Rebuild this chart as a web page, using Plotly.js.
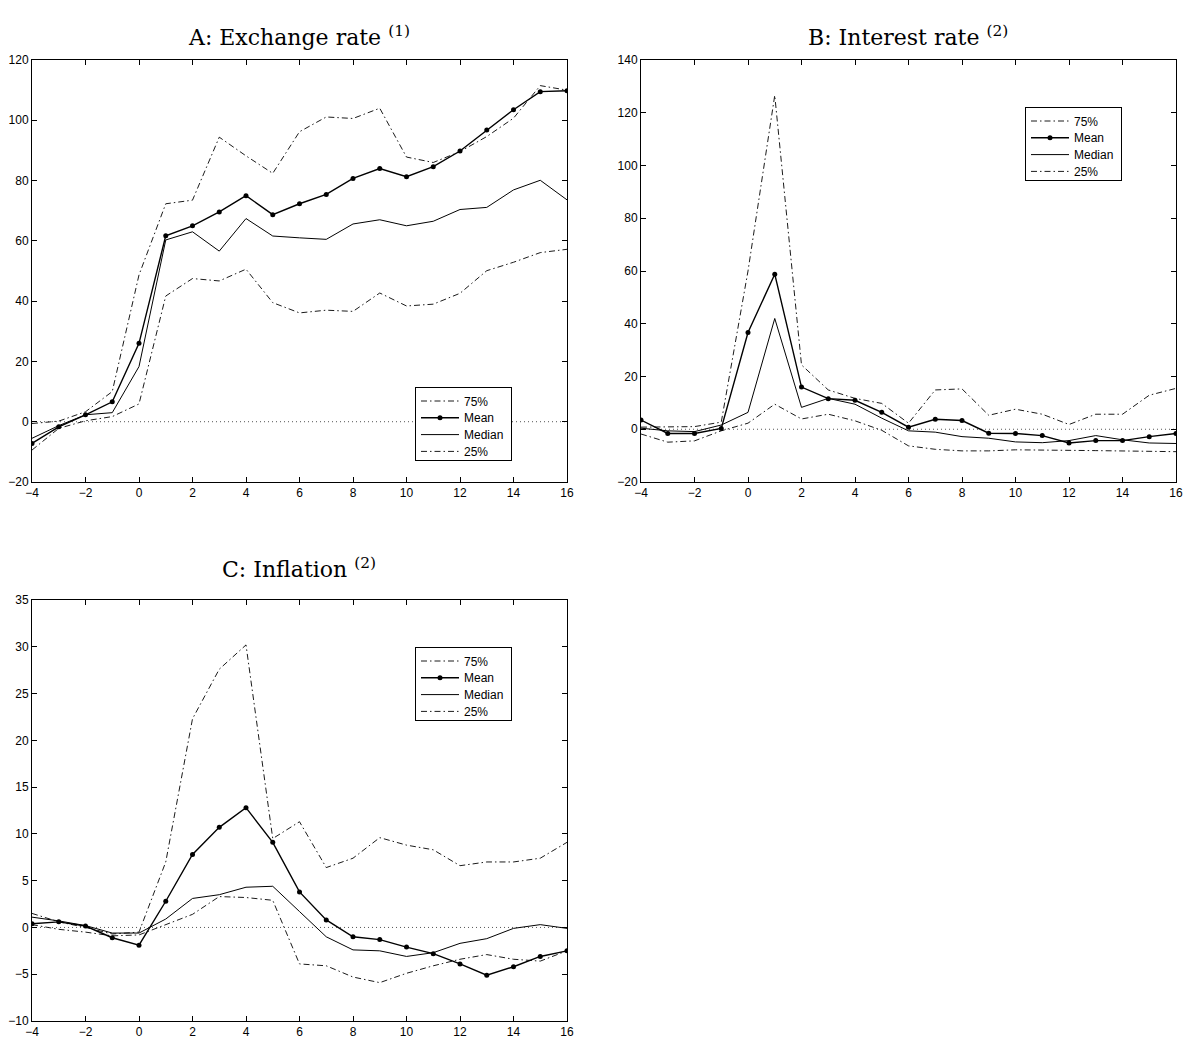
<!DOCTYPE html>
<html>
<head>
<meta charset="utf-8">
<script src="https://cdn.plot.ly/plotly-3.0.1.min.js"></script>
<style>html,body{margin:0;padding:0;background:#fff;}#chart{width:1188px;height:1043px;}</style>
</head>
<body>
<div id="chart"></div>
<script>
// Horizon (quarters relative to event)
const horizons = [-4,-3,-2,-1,0,1,2,3,4,5,6,7,8,9,10,11,12,13,14,15,16];
const seriesNames = ["75%", "Mean", "Median", "25%"];
const panelTitles = ["A: Exchange rate <sup>(1)</sup>", "B: Interest rate <sup>(2)</sup>", "C: Inflation <sup>(2)</sup>"];
const zeroLevel = [0, 0];
const zeroSpan = [-4, 16];

// Panel A: Exchange rate
const exch75   = [-0.6,0.2,3.3,10,48.7,72.3,73.5,94.4,88.2,82.4,96.2,101.1,100.6,104,87.8,86,89.6,94.6,100.7,111.5,110];
const exchMean = [-7.2,-1.7,2.3,6.6,26,61.7,65,69.6,75,68.7,72.3,75.4,80.7,84,81.3,84.6,89.8,96.8,103.5,109.5,109.8];
const exchMed  = [-5.5,-1.3,2.3,3,18.3,60.3,63,56.6,67.4,61.6,61,60.5,65.6,67,65,66.5,70.4,71.1,76.9,80.1,73.6];
const exch25   = [-9.4,-2.2,0.3,1.7,5.9,41.7,47.5,46.7,50.6,39.5,36.1,37,36.6,42.7,38.4,39,42.6,50.1,52.9,56.1,57.2];

// Panel B: Interest rate
const int75   = [0.8,1,1,2.7,60,126.6,24.4,14.9,11.7,9.8,2.3,14.9,15.3,5.3,7.6,5.7,1.8,5.7,5.7,12.9,15.5];
const intMean = [3.5,-1.6,-1.6,0.3,36.7,58.8,16,11.6,11,6.4,0.8,3.8,3.3,-1.5,-1.6,-2.4,-5.2,-4.3,-4.3,-2.8,-1.6];
const intMed  = [0.4,-0.6,-0.9,1.6,6.4,42,8.3,11.7,9.5,4.2,-0.6,-1.1,-2.8,-3.4,-4.8,-5.1,-4.3,-2.4,-4,-5.2,-5.4];
const int25   = [-1.8,-4.9,-4.4,-0.6,2.3,9.5,3.9,5.7,3.2,-0.4,-6.3,-7.6,-8.2,-8.2,-7.8,-7.8,-8,-8.1,-8.3,-8.5,-8.5];

// Panel C: Inflation
const infl75   = [1.5,0.6,0,-0.7,-0.5,7,22.3,27.6,30.2,9.5,11.3,6.4,7.4,9.6,8.8,8.3,6.6,7,7,7.4,9.1];
const inflMean = [0.4,0.6,0.15,-1.1,-1.9,2.8,7.8,10.7,12.8,9.1,3.8,0.8,-1,-1.3,-2.1,-2.8,-3.9,-5.1,-4.2,-3.1,-2.5];
const inflMed  = [1.1,0.7,0.2,-0.6,-0.6,0.9,3.1,3.5,4.3,4.4,1.7,-1,-2.4,-2.5,-3.1,-2.7,-1.7,-1.2,-0.1,0.3,-0.1];
const infl25   = [0.3,-0.2,-0.5,-0.9,-0.8,0.3,1.4,3.3,3.2,2.9,-3.9,-4.1,-5.3,-5.9,-4.9,-4.1,-3.4,-2.9,-3.4,-3.6,-2.5];

const DASHDOT = "6px,3px,1.5px,3px";

function panelTraces(xa, ya, leg, s75, sMean, sMed, s25) {
  return [
    {x: zeroSpan, y: zeroLevel, xaxis: xa, yaxis: ya, mode: "lines", showlegend: false, hoverinfo: "skip",
     line: {color: "#555", width: 1, dash: "1px,3px"}},
    {x: horizons, y: s75, xaxis: xa, yaxis: ya, legend: leg, name: seriesNames[0], mode: "lines",
     line: {color: "#000", width: 0.9, dash: DASHDOT}},
    {x: horizons, y: sMean, xaxis: xa, yaxis: ya, legend: leg, name: seriesNames[1], mode: "lines+markers",
     line: {color: "#000", width: 1.4}, marker: {color: "#000", size: 5}},
    {x: horizons, y: sMed, xaxis: xa, yaxis: ya, legend: leg, name: seriesNames[2], mode: "lines",
     line: {color: "#000", width: 1}},
    {x: horizons, y: s25, xaxis: xa, yaxis: ya, legend: leg, name: seriesNames[3], mode: "lines",
     line: {color: "#000", width: 0.9, dash: DASHDOT}}
  ];
}

const data = [].concat(
  panelTraces("x", "y", "legend", exch75, exchMean, exchMed, exch25),
  panelTraces("x2", "y2", "legend2", int75, intMean, intMed, int25),
  panelTraces("x3", "y3", "legend3", infl75, inflMean, inflMed, infl25)
);

const W = 1188, H = 1043;
const tickFont = {family: "Liberation Sans, Arial, sans-serif", size: 12, color: "#000"};
function xAxis(l, r, anchor) {
  return {domain: [l / W, r / W], anchor: anchor, range: [-4, 16], tick0: -4, dtick: 2,
    ticks: "inside", ticklen: 5, tickcolor: "#000", showline: true, linecolor: "#000", linewidth: 1,
    mirror: "ticks", showgrid: false, zeroline: false, tickfont: tickFont, fixedrange: true};
}
function yAxis(t, b, anchor, lo, hi, dt) {
  return {domain: [1 - b / H, 1 - t / H], anchor: anchor, range: [lo, hi], tick0: lo, dtick: dt,
    ticks: "inside", ticklen: 5, tickcolor: "#000", showline: true, linecolor: "#000", linewidth: 1,
    mirror: "ticks", showgrid: false, zeroline: false, tickfont: tickFont, fixedrange: true};
}
const legFont = {family: "Liberation Sans, Arial, sans-serif", size: 12, color: "#000"};
function legendAt(l, t) {
  return {x: l / W, y: 1 - t / H, xanchor: "left", yanchor: "top", bgcolor: "#fff",
    bordercolor: "#000", borderwidth: 1, font: legFont, itemwidth: 38, tracegroupgap: 0};
}
const titleFont = {family: "DejaVu Serif, Liberation Serif, serif", size: 22, color: "#000"};
const layout = {
  width: W, height: H, margin: {l: 0, r: 0, t: 0, b: 0},
  paper_bgcolor: "#fff", plot_bgcolor: "#fff", showlegend: true,
  xaxis: xAxis(32, 567, "y"), yaxis: yAxis(60, 482, "x", -20, 120, 20),
  xaxis2: xAxis(641, 1176, "y2"), yaxis2: yAxis(60, 482, "x2", -20, 140, 20),
  xaxis3: xAxis(32, 567, "y3"), yaxis3: yAxis(600, 1021, "x3", -10, 35, 5),
  legend: legendAt(415, 387), legend2: legendAt(1025, 107), legend3: legendAt(415, 647),
  annotations: [
    {text: panelTitles[0], x: 299 / W, y: 1 - 36 / H, xref: "paper", yref: "paper", showarrow: false, font: titleFont, xanchor: "center", yanchor: "middle"},
    {text: panelTitles[1], x: 908 / W, y: 1 - 36 / H, xref: "paper", yref: "paper", showarrow: false, font: titleFont, xanchor: "center", yanchor: "middle"},
    {text: panelTitles[2], x: 299 / W, y: 1 - 568 / H, xref: "paper", yref: "paper", showarrow: false, font: titleFont, xanchor: "center", yanchor: "middle"}
  ]
};

// Legend box geometry in the reference (MATLAB-style compact rows)
const LEG_ROW = 16.8, LEG_FIRST = 14, LEG_BOTTOM_PAD = 9, LEG_WIDTH = 96;

Plotly.newPlot("chart", data, layout, {staticPlot: true, displayModeBar: false}).then(function (gd) {
  gd.querySelectorAll("g.legend, g.legend2, g.legend3").forEach(function (leg) {
    const items = leg.querySelectorAll("g.traces");
    items.forEach(function (it, i) {
      const m = /translate\(\s*([-\d.]+)[ ,]+([-\d.]+)\s*\)/.exec(it.getAttribute("transform") || "");
      const x = m ? parseFloat(m[1]) : 1;
      it.setAttribute("transform", "translate(" + x + "," + (LEG_FIRST + i * LEG_ROW) + ")");
    });
    const bg = leg.querySelector("rect.bg");
    if (bg) {
      const h = LEG_FIRST + (items.length - 1) * LEG_ROW + LEG_BOTTOM_PAD;
      bg.setAttribute("height", h);
      bg.setAttribute("width", LEG_WIDTH);
    }
  });
});
</script>
</body>
</html>
